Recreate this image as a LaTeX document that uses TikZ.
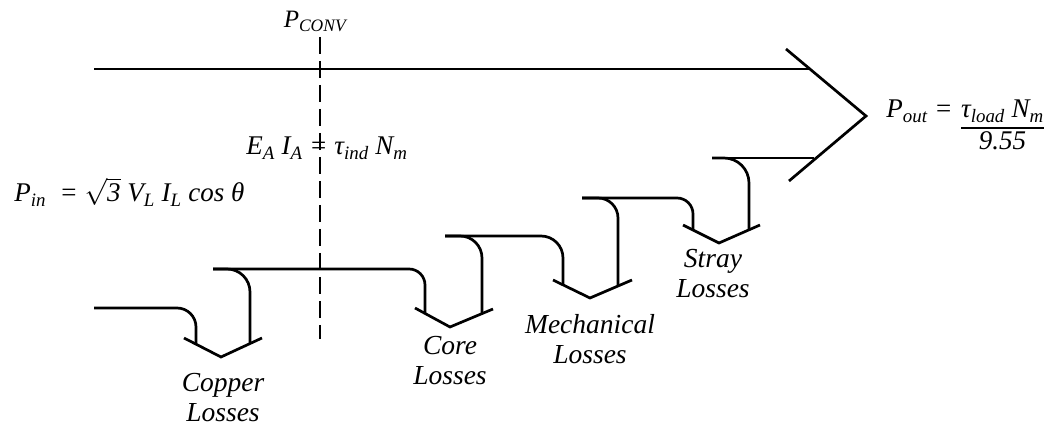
\RequirePackage{fix-cm}
\documentclass[tikz,border=0pt]{standalone}
\usepackage{fontspec}
\setmainfont{Liberation Serif}
\setlength{\arrayrulewidth}{1.6pt}
\newcommand{\sbs}[1]{\textsubscript{#1}}
\begin{document}
\begin{tikzpicture}[x=1pt,y=-1pt, line width=2.7pt,
  lbl/.style={font=\fontsize{27.5}{30}\selectfont\itshape, align=center, inner sep=0pt},
  eq/.style={font=\fontsize{27}{30}\selectfont\itshape, inner sep=0pt},
  conv/.style={dash pattern=on 17pt off 7pt}]
\useasboundingbox (0,0) rectangle (1055,427);
% main output arrow
\draw (94,69) -- (810,69);
\draw (786,49) -- (866,116) -- (789,181);
% input and loss steps
\draw[rounded corners=19pt] (94,308) -- (196,308) -- (196,344);
\draw (184,338) -- (221,357) -- (262,338);
\draw[rounded corners=23pt] (250,344) -- (250,269) -- (213,269);
\draw[rounded corners=16pt] (213,269) -- (425,269) -- (425,314);
\draw (415,308) -- (450,327) -- (493,309);
\draw[rounded corners=22pt] (482,314) -- (482,236) -- (445,236);
\draw[rounded corners=22pt] (445,236) -- (563,236) -- (563,285);
\draw (553,280) -- (590,298) -- (632,280);
\draw[rounded corners=20pt] (618,286) -- (618,198) -- (582,198);
\draw[rounded corners=16pt] (582,198) -- (693,198) -- (693,230);
\draw (683,225) -- (719,243) -- (760,225);
\draw[rounded corners=25pt] (749,230) -- (749,158) -- (712,158);
\draw (712,158) -- (814,158);
% converted power line
\draw[conv] (320,37) -- (320,339);
% texts
\node[eq, font=\fontsize{25}{28}\selectfont\itshape, anchor=base] (pconv) at (315,28) {P\sbs{CONV}};
\node[eq, anchor=base west] (eaia) at (245,155) {E\sbs{A} I\sbs{A} = τ\sbs{ind} N\sbs{m}};
\node[eq, anchor=base west] (pin) at (13,202) {P\sbs{in}\ \ = $\sqrt{\mbox{3}}$ V\sbs{L} I\sbs{L} cos θ};
\node[eq, anchor=base west] (pout) at (885,118) {P\sbs{out} =};
\node[eq, anchor=base west] (frac) at ([xshift=6pt]pout.base east) {\begin{tabular}[t]{@{}c@{}}τ\sbs{load} N\sbs{m}\\\hline 9.55\end{tabular}};
\node[lbl] (copper) at (223,398) {Copper\\Losses};
\node[lbl] (core) at (450,361) {Core\\Losses};
\node[lbl] (mech) at (590,339) {Mechanical\\Losses};
\node[lbl] (stray) at (713,274) {Stray\\Losses};
\end{tikzpicture}
\end{document}
